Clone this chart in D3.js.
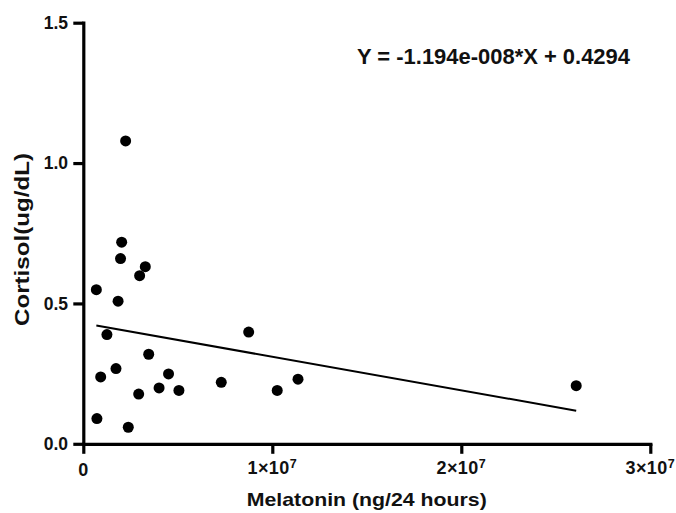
<!DOCTYPE html>
<html>
<head>
<meta charset="utf-8">
<script src="https://cdn.jsdelivr.net/npm/d3@7"></script>
<style>
  html, body { margin: 0; padding: 0; background: #fff; }
  svg { display: block; }
  text { font-family: "Liberation Sans", Arial, Helvetica, sans-serif; font-weight: bold; fill: #111; }
</style>
</head>
<body>
<div id="chart"></div>
<script>
// Melatonin excretion (ng/24 h) vs cortisol (ug/dL), one point per subject
const melatonin = [
  2.24e6, 2.03e6, 1.97e6, 3.28e6, 2.98e6, 0.69e6, 1.84e6, 1.25e6,
  3.46e6, 1.73e6, 0.92e6, 4.51e6, 4.01e6, 2.93e6, 5.06e6, 0.72e6,
  2.38e6, 7.30e6, 8.75e6, 10.26e6, 11.36e6, 26.08e6
];
const cortisol = [
  1.079, 0.718, 0.660, 0.631, 0.599, 0.549, 0.508, 0.389,
  0.319, 0.268, 0.238, 0.249, 0.199, 0.177, 0.190, 0.090,
  0.059, 0.219, 0.398, 0.190, 0.230, 0.207
];

// Fitted linear regression
const slope = -1.194e-8;
const intercept = 0.4294;
const equationLabel = "Y = -1.194e-008*X + 0.4294";

// Axis ticks and titles
const xTicks = [0, 1e7, 2e7, 3e7];
const yTicks = [0, 0.5, 1.0, 1.5];
const xTitle = "Melatonin (ng/24 hours)";
const yTitle = "Cortisol(ug/dL)";

const W = 676, H = 513;
const svg = d3.select("#chart").append("svg").attr("width", W).attr("height", H);

const x = d3.scaleLinear().domain([0, 3e7]).range([83.3, 650.3]);
const y = d3.scaleLinear().domain([0, 1.5]).range([443.8, 22.7]);

const axisStroke = 3.2;
const tickLen = 10;

// X axis
const xAxis = svg.append("g")
  .attr("transform", `translate(0,${y(0)})`)
  .call(d3.axisBottom(x).tickValues(xTicks).tickSizeInner(tickLen).tickSizeOuter(0).tickFormat(() => ""));
// Y axis
const yAxis = svg.append("g")
  .attr("transform", `translate(${x(0)},0)`)
  .call(d3.axisLeft(y).tickValues(yTicks).tickSizeInner(tickLen).tickSizeOuter(0).tickFormat(() => ""));

[xAxis, yAxis].forEach(g => {
  g.select(".domain").attr("stroke", "#000").attr("stroke-width", axisStroke).attr("stroke-linecap", "square");
  g.selectAll(".tick line").attr("stroke", "#000").attr("stroke-width", axisStroke);
});

// X tick labels: 0 and m×10^e
xTicks.forEach(v => {
  const t = svg.append("text")
    .attr("x", x(v))
    .attr("text-anchor", "middle")
    .style("font-size", "18px");
  if (v === 0) {
    t.attr("y", 476).text("0");
  } else {
    const e = Math.floor(Math.log10(v));
    const m = Math.round(v / Math.pow(10, e));
    t.attr("y", 474).style("letter-spacing", "0.4px");
    t.append("tspan").text(`${m}×10`);
    t.append("tspan").attr("dy", "-6").style("font-size", "12.5px").text(`${e}`);
  }
});

// Y tick labels
const yFmt = d3.format(".1f");
yTicks.forEach(v => {
  svg.append("text")
    .attr("x", 68)
    .attr("y", y(v))
    .attr("dy", "0.36em")
    .attr("text-anchor", "end")
    .style("font-size", "17.5px")
    .text(yFmt(v));
});

// Axis titles
svg.append("text")
  .attr("x", x(1.5e7))
  .attr("y", 506)
  .attr("text-anchor", "middle")
  .style("font-size", "19px")
  .attr("textLength", 240)
  .attr("lengthAdjust", "spacingAndGlyphs")
  .text(xTitle);

svg.append("text")
  .attr("transform", `translate(29,${(153 + 326) / 2}) rotate(-90)`)
  .attr("text-anchor", "middle")
  .style("font-size", "20px")
  .attr("textLength", 173)
  .attr("lengthAdjust", "spacingAndGlyphs")
  .text(yTitle);

// Regression line across the observed melatonin range
const [xMin, xMax] = d3.extent(melatonin);
svg.append("line")
  .attr("x1", x(xMin)).attr("y1", y(slope * xMin + intercept))
  .attr("x2", x(xMax)).attr("y2", y(slope * xMax + intercept))
  .attr("stroke", "#000")
  .attr("stroke-width", 2);

// Data points
svg.append("g")
  .selectAll("circle")
  .data(melatonin.map((m, i) => ({ m, c: cortisol[i] })))
  .join("circle")
  .attr("cx", d => x(d.m))
  .attr("cy", d => y(d.c))
  .attr("r", 5.5)
  .attr("fill", "#000");

// Regression equation
svg.append("text")
  .attr("x", 357)
  .attr("y", 63.5)
  .style("font-size", "22px")
  .attr("textLength", 273)
  .attr("lengthAdjust", "spacingAndGlyphs")
  .text(equationLabel);
</script>
</body>
</html>
